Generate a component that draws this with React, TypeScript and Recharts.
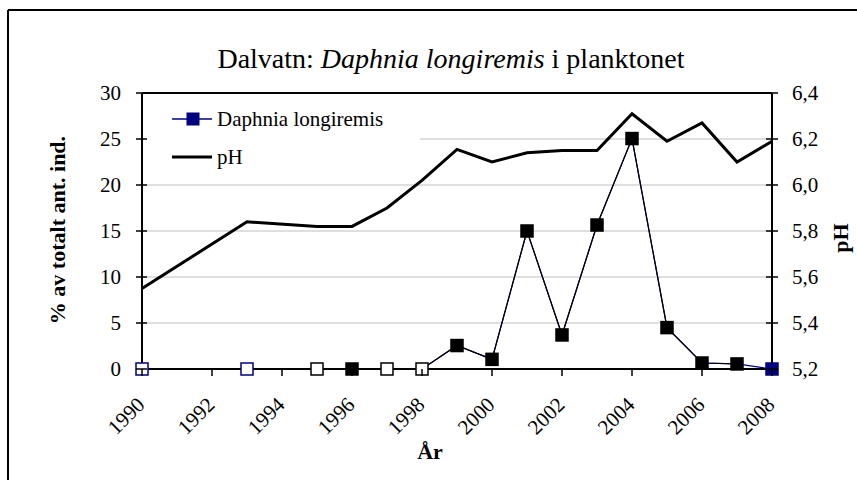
import React from 'react';
import { ComposedChart, Line, XAxis, YAxis, CartesianGrid, ReferenceLine, Customized } from 'recharts';

const years = [1990, 1993, 1995, 1996, 1997, 1998, 1999, 2000, 2001, 2002, 2003, 2004, 2005, 2006, 2007, 2008];
const daphnia = [0, 0, 0, 0, 0, 0, 2.55, 1.05, 15, 3.7, 15.65, 25.05, 4.5, 0.65, 0.55, 0];
const ph = [5.55, 5.84, 5.82, 5.82, 5.9, 6.02, 6.155, 6.1, 6.14, 6.15, 6.15, 6.31, 6.19, 6.27, 6.1, 6.19];
const xTicks = [1990, 1992, 1994, 1996, 1998, 2000, 2002, 2004, 2006, 2008];
const leftTicks = [0, 5, 10, 15, 20, 25, 30];
const rightTicks = [5.2, 5.4, 5.6, 5.8, 6.0, 6.2, 6.4];
const seriesNames = ['Daphnia longiremis', 'pH'];

// styles (per point)
const NAVY = '#000080';
const segBlack = [false, false, false, true, false, false, true, true, true, true, true, true, true, true, true, false];
const markerFill = ['#fff', '#fff', '#fff', '#000', '#fff', '#fff', '#000', '#000', '#000', '#000', '#000', '#000', '#000', '#000', '#000', NAVY];
const markerStroke = [NAVY, NAVY, '#000', '#000', '#000', '#000', '#000', '#000', '#000', '#000', '#000', '#000', '#000', '#000', '#000', NAVY];

const FS = { fontFamily: "'Times New Roman', Times, serif" };

const data = years.map((y, i) => ({
  year: y,
  daphnia: daphnia[i],
  ph: ph[i],
  daphniaBlack: segBlack[i] || segBlack[i + 1] ? daphnia[i] : null,
}));

const LeftTick = (props: any) => {
  const { x, y, payload } = props;
  return (
    <g>
      <line x1={x - 6} x2={x + 5} y1={y} y2={y} stroke="#000" strokeWidth={1.5} />
      <text x={x - 21} y={y} dy="0.35em" textAnchor="end" fontSize={21} style={FS} fill="#000">
        {payload.value}
      </text>
    </g>
  );
};

const RightTick = (props: any) => {
  const { x, y, payload } = props;
  return (
    <g>
      <line x1={x - 6} x2={x + 6} y1={y} y2={y} stroke="#000" strokeWidth={1.5} />
      <text x={x + 20} y={y} dy="0.35em" textAnchor="start" fontSize={21} style={FS} fill="#000">
        {Number(payload.value).toFixed(1).replace('.', ',')}
      </text>
    </g>
  );
};

const XTick = (props: any) => {
  const { x, y, payload } = props;
  const ax = x + 4;
  const ay = y + 29;
  return (
    <g>
      <line x1={x} x2={x} y1={369} y2={376} stroke="#000" strokeWidth={1.5} />
      <text x={ax} y={ay} textAnchor="end" fontSize={21} style={FS} fill="#000" transform={`rotate(-45, ${ax}, ${ay})`}>
        {payload.value}
      </text>
    </g>
  );
};

const renderDot = (props: any) => {
  const { cx, cy, index } = props;
  if (cx == null || cy == null) return <g key={`d${index}`} />;
  return (
    <rect
      key={`d${index}`}
      x={cx - 6}
      y={cy - 6}
      width={12}
      height={12}
      fill={markerFill[index]}
      stroke={markerStroke[index]}
      strokeWidth={1.5}
    />
  );
};

const Decorations = () => (
  <g>
    <line x1={8} y1={10} x2={857} y2={10} stroke="#000" strokeWidth={2} />
    <line x1={8} y1={10} x2={8} y2={480} stroke="#000" strokeWidth={2} />
    <text x={451} y={68} textAnchor="middle" fontSize={28} style={FS} fill="#000">
      Dalvatn: <tspan fontStyle="italic">Daphnia longiremis</tspan> i planktonet
    </text>
    <text x={57} y={230} textAnchor="middle" dominantBaseline="central" fontSize={22} fontWeight="bold" style={FS} fill="#000" transform="rotate(-90, 57, 230)">
      % av totalt ant. ind.
    </text>
    <text x={840} y={238} textAnchor="middle" dominantBaseline="central" fontSize={22} fontWeight="bold" style={FS} fill="#000" transform="rotate(-90, 840, 238)">
      pH
    </text>
    <text x={430} y={459} textAnchor="middle" fontSize={22} fontWeight="bold" style={FS} fill="#000">
      År
    </text>
    <rect x={144} y={95} width={276} height={83} fill="#fff" />
    <line x1={172} x2={212} y1={119} y2={119} stroke={NAVY} strokeWidth={1.5} />
    <rect x={187} y={113} width={12} height={12} fill={NAVY} stroke={NAVY} />
    <text x={217} y={119} dy="0.35em" fontSize={21} style={FS} fill="#000">{seriesNames[0]}</text>
    <line x1={172} x2={212} y1={157} y2={157} stroke="#000" strokeWidth={3} />
    <text x={217} y={157} dy="0.35em" fontSize={21} style={FS} fill="#000">{seriesNames[1]}</text>
  </g>
);

export default function App() {
  return (
    <div style={{ position: 'absolute', left: 0, top: 0, width: 857, height: 480, background: '#fff' }}>
      <ComposedChart width={857} height={480} data={data} margin={{ top: 93, right: 0, bottom: 0, left: 0 }}>
        <CartesianGrid yAxisId="left" vertical={false} stroke="#c0c0c0" strokeWidth={1.2} />
        <Customized component={<Decorations />} />
        <XAxis
          dataKey="year"
          type="number"
          domain={[1990, 2008]}
          ticks={xTicks}
          interval={0}
          height={111}
          axisLine={{ stroke: '#000', strokeWidth: 2 }}
          tickLine={false}
          tickSize={6}
          tick={<XTick />}
        />
        <YAxis
          yAxisId="left"
          domain={[0, 30]}
          ticks={leftTicks}
          interval={0}
          width={142}
          axisLine={{ stroke: '#000', strokeWidth: 2 }}
          tickLine={false}
          tickSize={0}
          tickMargin={0}
          tick={<LeftTick />}
        />
        <YAxis
          yAxisId="right"
          orientation="right"
          domain={[5.2, 6.4]}
          ticks={rightTicks}
          interval={0}
          width={85}
          axisLine={{ stroke: '#000', strokeWidth: 2 }}
          tickLine={false}
          tickSize={0}
          tickMargin={0}
          tick={<RightTick />}
        />
        <ReferenceLine yAxisId="left" y={30} stroke="#000" strokeWidth={2} />
        <Line yAxisId="left" dataKey="daphnia" stroke={NAVY} strokeWidth={1.2} dot={false} isAnimationActive={false} type="linear" />
        <Line yAxisId="left" dataKey="daphniaBlack" stroke="#000" strokeWidth={1.2} dot={false} isAnimationActive={false} type="linear" />
        <Line yAxisId="right" dataKey="ph" stroke="#000" strokeWidth={3} dot={false} isAnimationActive={false} type="linear" />
        <Line yAxisId="left" dataKey="daphnia" stroke="none" dot={renderDot} activeDot={false} isAnimationActive={false} type="linear" />
      </ComposedChart>
    </div>
  );
}
